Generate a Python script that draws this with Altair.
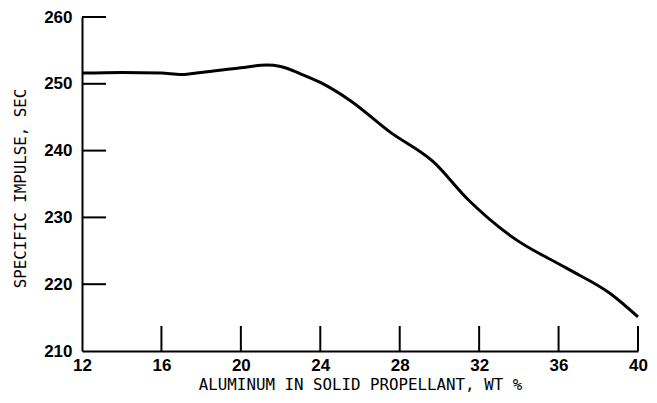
import altair as alt
import pandas as pd

# Curve
aluminum = [12, 14, 16, 17, 18, 20, 21.3, 22, 23, 24, 25.5, 27.5, 29.7, 31.4, 33.6, 36.4, 38.6, 40]
impulse = [251.6, 251.7, 251.6, 251.4, 251.7, 252.4, 252.8, 252.6, 251.5, 250.2, 247.5, 242.8,
           238.3, 232.8, 227.2, 222.4, 218.6, 215.1]

x_ticks = [12, 16, 20, 24, 28, 32, 36, 40]
y_ticks = [210, 220, 230, 240, 250, 260]

W, H = 556, 334
FONT_LBL = "Liberation Sans"
FONT_TTL = "DejaVu Sans Mono"

curve = pd.DataFrame({"x": aluminum, "y": impulse})
xt = pd.DataFrame({"x": x_ticks[1:]})
yt = pd.DataFrame({"y": y_ticks[1:]})

xscale = alt.Scale(domain=[12, 40], nice=False, zero=False)
yscale = alt.Scale(domain=[210, 260], nice=False, zero=False)

xaxis = alt.Axis(values=x_ticks, ticks=False, grid=False, domainColor="black", domainWidth=2,
                 labelFont=FONT_LBL, labelFontSize=17, labelFontWeight="bold", labelColor="black",
                 labelPadding=6, title="ALUMINUM IN SOLID PROPELLANT, WT %",
                 titleFont=FONT_TTL, titleFontSize=15.8, titleFontWeight="normal", titleColor="black",
                 titlePadding=4, labelFlush=False)
yaxis = alt.Axis(values=y_ticks, ticks=False, grid=False, domainColor="black", domainWidth=2,
                 labelFont=FONT_LBL, labelFontSize=17, labelFontWeight="bold", labelColor="black",
                 labelPadding=10, title="SPECIFIC IMPULSE, SEC",
                 titleFont=FONT_TTL, titleFontSize=15.8, titleFontWeight="normal", titleColor="black",
                 titlePadding=15, titleY=171)

line = alt.Chart(curve).mark_line(color="black", strokeWidth=3, interpolate="monotone").encode(
    x=alt.X("x:Q", scale=xscale, axis=xaxis),
    y=alt.Y("y:Q", scale=yscale, axis=yaxis),
)

ytick_marks = alt.Chart(yt).mark_rule(color="black", strokeWidth=2).encode(
    y=alt.Y("y:Q", scale=yscale),
    x=alt.value(0),
    x2=alt.value(24),
)

xtick_marks = alt.Chart(xt).mark_rule(color="black", strokeWidth=2).encode(
    x=alt.X("x:Q", scale=xscale),
    y=alt.value(H),
    y2=alt.value(H - 25),
)

chart = alt.layer(line, ytick_marks, xtick_marks).properties(
    width=W, height=H,
    autosize=alt.AutoSizeParams(type="none"),
    padding={"left": 74, "top": 9, "right": 11, "bottom": 44},
    background="white",
).configure_view(stroke=None)

chart.save("out.html", embed_options={"renderer": "svg", "actions": False})
